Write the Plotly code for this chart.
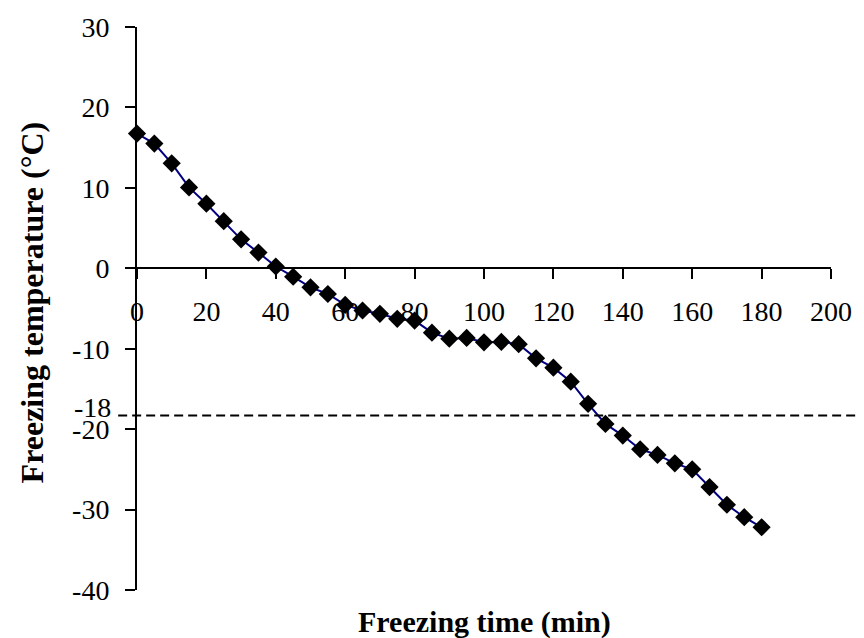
import plotly.graph_objects as go

# Data
time_min = [0, 5, 10, 15, 20, 25, 30, 35, 40, 45, 50, 55, 60, 65, 70, 75, 80, 85, 90,
            95, 100, 105, 110, 115, 120, 125, 130, 135, 140, 145, 150, 155, 160, 165,
            170, 175, 180]
temp_c = [16.75, 15.5, 13.05, 10.05, 8.03, 5.86, 3.6, 1.95, 0.22, -1.05, -2.37, -3.2,
          -4.55, -5.25, -5.66, -6.28, -6.5, -8.0, -8.75, -8.66, -9.2, -9.15, -9.44,
          -11.2, -12.36, -14.1, -16.85, -19.35, -20.8, -22.5, -23.2, -24.25, -25.0,
          -27.2, -29.4, -30.95, -32.2]

x_ticks = [0, 20, 40, 60, 80, 100, 120, 140, 160, 180, 200]
y_ticks = [30, 20, 10, 0, -10, -20, -30, -40]
y_tick_labels = ["30", "20", "10", "0", "-10", "-20", "-30", "-40"]

ref_line_value = -18.3
ref_line_label = "-18"

X_RANGE = [0, 200]
Y_RANGE = [-40, 30]

FONT = "Liberation Serif, Times New Roman, serif"
TICK_SIZE = 28
TITLE_SIZE = 30
YTITLE_SIZE = 32

def yfrac(v):
    return (v - Y_RANGE[0]) / (Y_RANGE[1] - Y_RANGE[0])

fig = go.Figure()
fig.add_trace(go.Scatter(
    x=time_min, y=temp_c, mode="lines+markers",
    line=dict(color="#000080", width=2),
    marker=dict(symbol="diamond", size=14, color="black"),
    showlegend=False, cliponaxis=False,
))

W, H = 864, 638
L, R, T, B = 137, 27, 23, 48
plot_w = W - L - R

fig.add_shape(type="line", xref="paper", yref="paper",
              x0=(118 - L) / plot_w, x1=(W - L) / plot_w,
              y0=yfrac(ref_line_value), y1=yfrac(ref_line_value),
              line=dict(color="black", width=2, dash="9px,5px"))

fig.add_annotation(xref="paper", yref="paper", x=(113 - L) / plot_w,
                   y=yfrac(ref_line_value), yshift=8, xanchor="right", yanchor="middle",
                   text=ref_line_label, showarrow=False,
                   font=dict(family=FONT, size=TICK_SIZE, color="black"))

fig.add_annotation(xref="paper", yref="paper", x=0.5, y=0, yshift=-32,
                   xanchor="center", yanchor="middle",
                   text="<b>Freezing time (min)</b>", showarrow=False,
                   font=dict(family=FONT, size=TITLE_SIZE, color="black"))
fig.add_annotation(xref="paper", yref="paper", x=(31 - L) / plot_w, y=0.5,
                   yshift=6,
                   xanchor="center", yanchor="middle", textangle=-90,
                   text="<b>Freezing temperature (°C)</b>", showarrow=False,
                   font=dict(family=FONT, size=YTITLE_SIZE, color="black"))

fig.update_layout(
    width=W, height=H,
    margin=dict(l=L, r=R, t=T, b=B),
    plot_bgcolor="white", paper_bgcolor="white",
    font=dict(family=FONT, size=TICK_SIZE, color="black"),
    xaxis=dict(range=X_RANGE, tickvals=x_ticks, showgrid=False, zeroline=False,
               showline=True, linecolor="black", linewidth=2,
               ticks="outside", ticklen=10, tickwidth=2, tickcolor="black",
               anchor="free", position=yfrac(0), ticklabelstandoff=8,
               tickfont=dict(family=FONT, size=TICK_SIZE, color="black")),
    yaxis=dict(range=Y_RANGE, tickvals=y_ticks, ticktext=y_tick_labels,
               showgrid=False, zeroline=False,
               showline=True, linecolor="black", linewidth=2,
               ticks="outside", ticklen=10, tickwidth=2, tickcolor="black",
               ticklabelstandoff=10,
               tickfont=dict(family=FONT, size=TICK_SIZE, color="black")),
)

fig.write_html("out.html")
